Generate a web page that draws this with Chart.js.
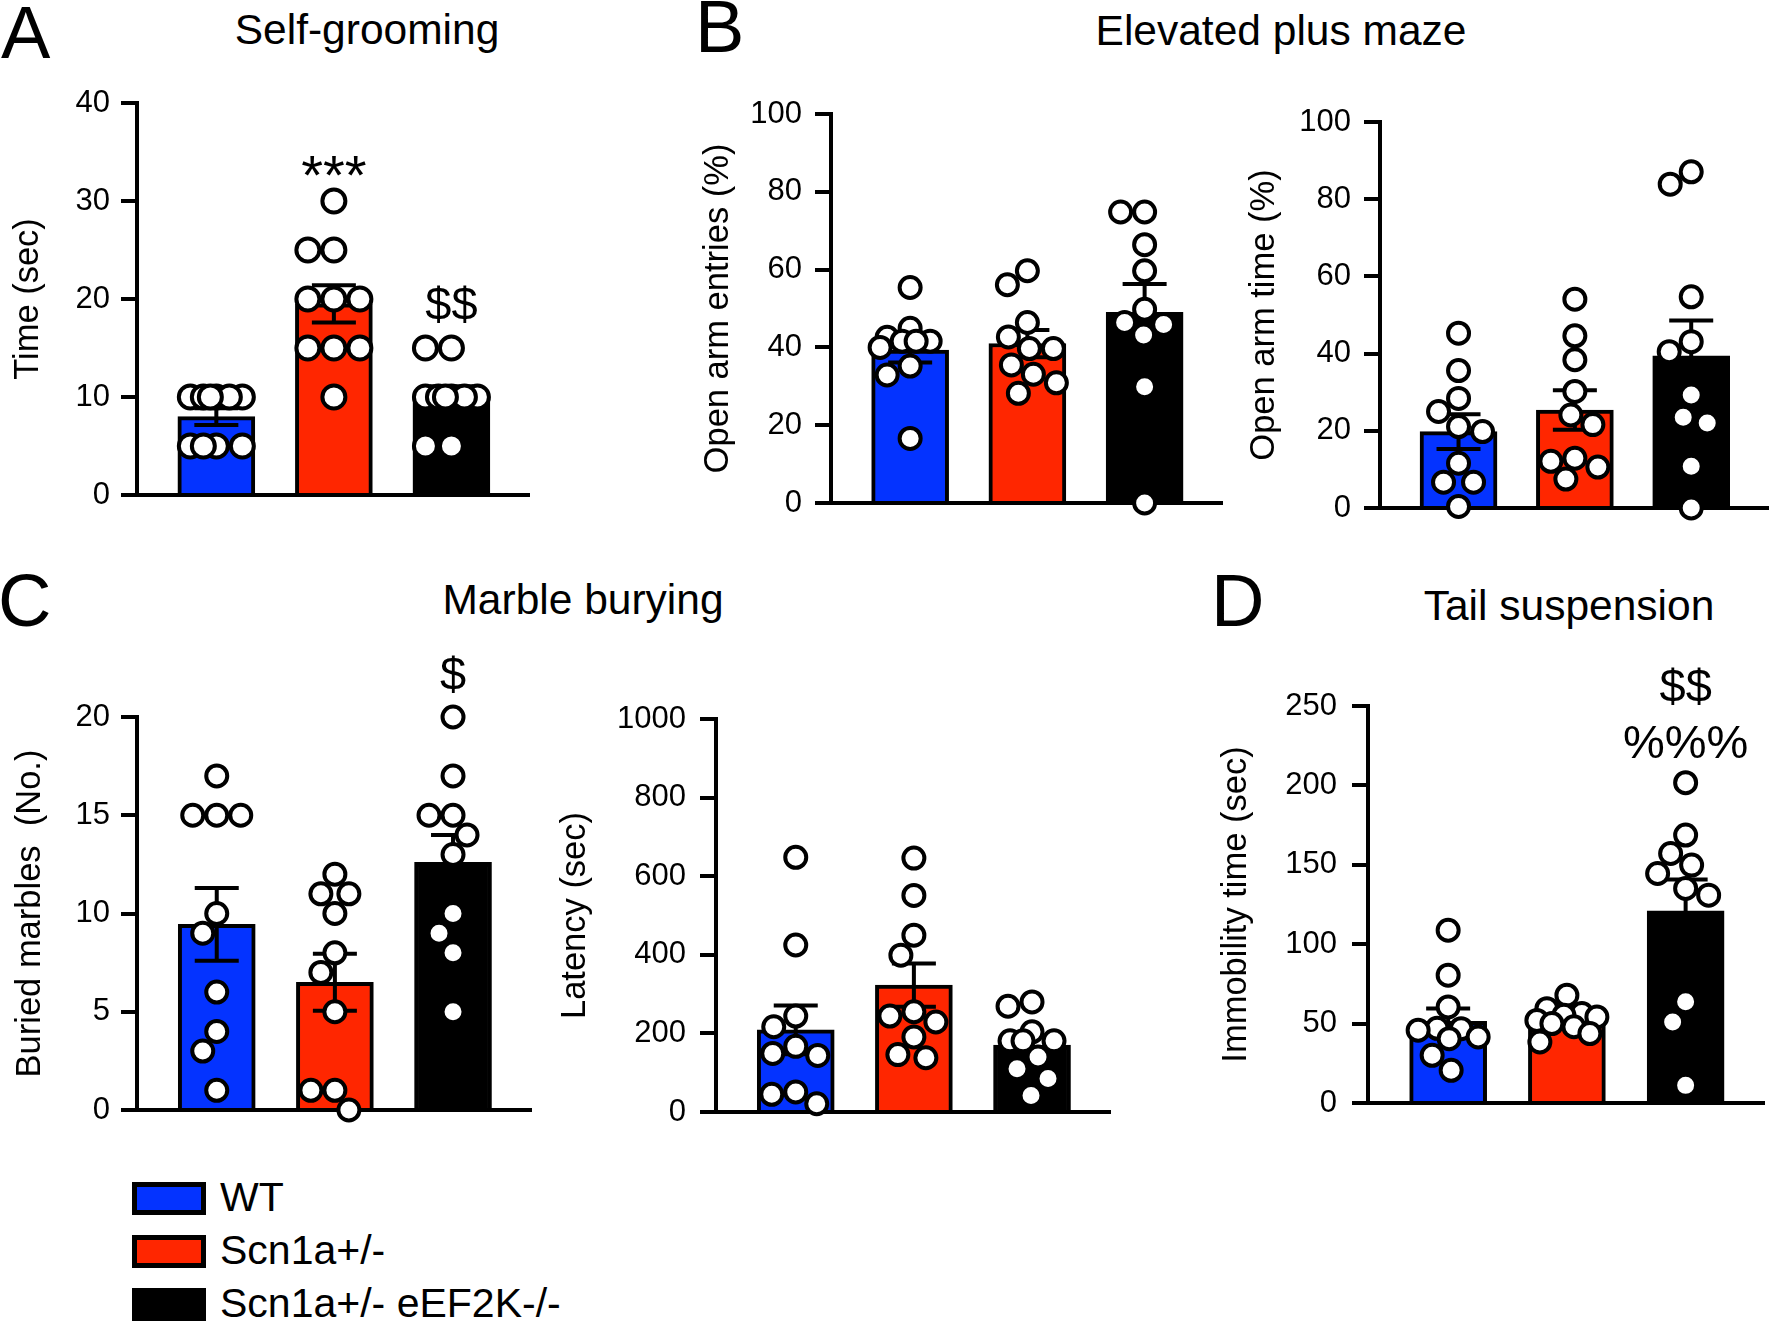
<!DOCTYPE html>
<html>
<head>
<meta charset="utf-8">
<script src="https://cdn.jsdelivr.net/npm/chart.js@4.4.1/dist/chart.umd.min.js"></script>
<style>
  html, body { margin: 0; padding: 0; background: #fff; }
  body { width: 1770px; height: 1323px; position: relative; overflow: hidden;
         font-family: 'Liberation Sans', Arial, Helvetica, sans-serif; color: #000; }
  .t { position: absolute; line-height: 1; white-space: nowrap; color: #000; }
  canvas { position: absolute; }
  .sw { position: absolute; box-sizing: border-box; width: 74px; height: 33px; border: 5px solid #000; }
</style>
</head>
<body>
<div class="t" style="left:1px;top:-4px;font-size:74px;">A</div>
<div class="t" style="left:167px;top:9px;width:400px;text-align:center;font-size:42.5px;">Self-grooming</div>
<div class="t" style="left:695px;top:-10px;font-size:74px;">B</div>
<div class="t" style="left:1081px;top:10px;width:400px;text-align:center;font-size:42.5px;">Elevated plus maze</div>
<div class="t" style="left:-2px;top:564px;font-size:74px;">C</div>
<div class="t" style="left:383px;top:579px;width:400px;text-align:center;font-size:42.5px;">Marble burying</div>
<div class="t" style="left:1211px;top:564px;font-size:74px;">D</div>
<div class="t" style="left:1369px;top:585px;width:400px;text-align:center;font-size:42.5px;">Tail suspension</div>

<div id="legend"></div>

<script>
// ---------------- DATA ----------------
const groups = ['WT', 'Scn1a+/-', 'Scn1a+/- eEF2K-/-'];
const groupColors = ['#0433FF', '#FF2600', '#000000'];

// A: Self-grooming, Time (sec)
const groomWT   = [10, 10, 10, 10, 10, 10, 5, 5, 5, 5];
const groomScn  = [30, 25, 25, 20, 20, 20, 15, 15, 15, 10];
const groomDKO  = [15, 15, 10, 10, 10, 10, 10, 10, 5, 5];
const groomMean = [8, 19.5, 10];
const groomSem  = [0.85, 1.9, 1.1];
const groomTicks = [0, 10, 20, 30, 40];
const groomMarks = [[], ['***'], ['$$']];

// B: Elevated plus maze, Open arm entries (%)
const entriesWT   = [55.4, 44.9, 42.6, 41.6, 41.6, 41.6, 40, 35.2, 32.9, 16.6];
const entriesScn  = [59.7, 56.1, 46.4, 42.7, 39.7, 39.7, 35.5, 33.1, 30.9, 28.2];
const entriesDKO  = [74.8, 74.8, 66.4, 59.7, 49.8, 46.4, 45.9, 43.2, 29.9, 0];
const entriesMean = [39.3, 41, 49];
const entriesSem  = [3.2, 3.5, 7.3];
const entriesTicks = [0, 20, 40, 60, 80, 100];

// B: Elevated plus maze, Open arm time (%)
const timeWT   = [45.3, 35.6, 28.4, 25, 21.1, 19.8, 11.6, 6.7, 6.7, 0.4];
const timeScn  = [54.1, 44.6, 38.4, 30.2, 24.1, 21.6, 12.9, 12.1, 10.6, 7.5];
const timeDKO  = [87.1, 83.9, 54.7, 43.1, 40.5, 29.3, 23.5, 22, 10.8, 0];
const timeMean = [19.8, 25.4, 39.4];
const timeSem  = [4.5, 5.1, 9.2];
const timeTicks = [0, 20, 40, 60, 80, 100];

// C: Marble burying, Buried marbles (No.)
const marblesWT   = [17, 15, 15, 15, 10, 9, 6, 4, 3, 1];
const marblesScn  = [12, 11, 11, 10, 8, 7, 5, 1, 1, 0];
const marblesDKO  = [20, 17, 15, 15, 14, 13, 10, 9, 8, 5];
const marblesMean = [9.45, 6.5, 12.6];
const marblesSem  = [1.85, 1.45, 1.4];
const marblesTicks = [0, 5, 10, 15, 20];
const marblesMarks = [[], [], ['$']];

// C: Marble burying, Latency (sec)
const latencyWT   = [648, 425, 244, 217, 167, 149, 144, 51, 45, 21];
const latencyScn  = [646, 551, 450, 399, 255, 244, 229, 191, 146, 138];
const latencyDKO  = [280, 269, 204, 181, 181, 181, 140, 110, 85, 42];
const latencyMean = [209, 323, 170];
const latencySem  = [62, 55, 24];
const latencyTicks = [0, 200, 400, 600, 800, 1000];

// D: Tail suspension, Immobility time (sec)
const tailWT   = [108.8, 80.5, 60.5, 47, 46.8, 45.8, 41.6, 40.5, 30, 20.6];
const tailScn  = [67.9, 59.4, 56.3, 55.3, 54.2, 52, 50, 48, 43.7, 38.4];
const tailDKO  = [201.7, 168.7, 157.1, 149.8, 144.5, 135.1, 130.9, 63.7, 51, 11.1];
const tailMean = [51.5, 50.5, 121];
const tailSem  = [8, 3, 19.8];
const tailTicks = [0, 50, 100, 150, 200, 250];
const tailMarks = [[], [], ['$$', '%%%']];

// ---------------- LAYOUT / STYLE ----------------
const FONT = "'Liberation Sans', Arial, Helvetica, sans-serif";
const X_MIN = -0.675, X_MAX = 2.66;
const BAR_W = 77;
const TITLE_SIZE = 34.5;
const TICK_SIZE = 31;

const panels = [
  { series: [groomWT, groomScn, groomDKO], mean: groomMean, sem: groomSem, ticks: groomTicks,
    marks: groomMarks, title: 'Time (sec)',
    box: { left: 0, top: 60, width: 545, height: 480 }, area: { left: 137, top: 103, right: 529, bottom: 495 },
    titleX: 28, r: 11.5, tickPad: 11 },
  { series: [entriesWT, entriesScn, entriesDKO], mean: entriesMean, sem: entriesSem, ticks: entriesTicks,
    marks: [[], [], []], title: 'Open arm entries (%)',
    box: { left: 690, top: 70, width: 545, height: 470 }, area: { left: 831, top: 114, right: 1222, bottom: 503 },
    titleX: 718, r: 10.5, tickPad: 13 },
  { series: [timeWT, timeScn, timeDKO], mean: timeMean, sem: timeSem, ticks: timeTicks,
    marks: [[], [], []], title: 'Open arm time (%)',
    box: { left: 1240, top: 70, width: 530, height: 470 }, area: { left: 1380, top: 122, right: 1768, bottom: 508 },
    titleX: 1264, r: 10.5, tickPad: 13 },
  { series: [marblesWT, marblesScn, marblesDKO], mean: marblesMean, sem: marblesSem, ticks: marblesTicks,
    marks: marblesMarks, title: 'Buried marbles  (No.)',
    box: { left: 0, top: 620, width: 545, height: 530 }, area: { left: 137, top: 717, right: 531, bottom: 1110 },
    titleX: 30, r: 10.5, tickPad: 11 },
  { series: [latencyWT, latencyScn, latencyDKO], mean: latencyMean, sem: latencySem, ticks: latencyTicks,
    marks: [[], [], []], title: 'Latency (sec)',
    box: { left: 548, top: 660, width: 575, height: 490 }, area: { left: 716, top: 719, right: 1110, bottom: 1112 },
    titleX: 575, r: 10.5, tickPad: 14 },
  { series: [tailWT, tailScn, tailDKO], mean: tailMean, sem: tailSem, ticks: tailTicks,
    marks: tailMarks, title: 'Immobility time (sec)',
    box: { left: 1180, top: 630, width: 590, height: 520 }, area: { left: 1368, top: 706, right: 1764, bottom: 1103 },
    titleX: 1236, r: 10.5, tickPad: 15 }
];

function makeChart(p) {
  const c = document.createElement('canvas');
  c.width = p.box.width; c.height = p.box.height;
  c.style.left = p.box.left + 'px'; c.style.top = p.box.top + 'px';
  c.style.width = p.box.width + 'px'; c.style.height = p.box.height + 'px';
  document.body.appendChild(c);

  const yW = p.area.left - p.box.left;
  const titlePad = p.titleX - p.box.left - TITLE_SIZE * 1.2 / 2;
  const pBorder = 4;

  const errPlugin = {
    id: 'errbars',
    afterDatasetDraw(chart, args) {
      if (args.meta.type !== 'bar') return;
      const ctx = chart.ctx, xs = chart.scales.x, ys = chart.scales.y;
      ctx.save();
      ctx.strokeStyle = '#000'; ctx.lineWidth = 4; ctx.lineCap = 'butt';
      p.mean.forEach((m, i) => {
        const cx = xs.getPixelForValue(i);
        const yT = ys.getPixelForValue(m + p.sem[i]);
        const yB = ys.getPixelForValue(m - p.sem[i]);
        ctx.beginPath();
        ctx.moveTo(cx, yT); ctx.lineTo(cx, yB);
        ctx.moveTo(cx - 22, yT); ctx.lineTo(cx + 22, yT);
        ctx.moveTo(cx - 22, yB); ctx.lineTo(cx + 22, yB);
        ctx.stroke();
      });
      ctx.restore();
    }
  };

  const markPlugin = {
    id: 'marks',
    afterDraw(chart) {
      const ctx = chart.ctx, xs = chart.scales.x, ys = chart.scales.y;
      ctx.save();
      ctx.fillStyle = '#000';
      ctx.textAlign = 'center'; ctx.textBaseline = 'alphabetic';
      p.marks.forEach((lines, gi) => {
        if (!lines.length) return;
        const top = ys.getPixelForValue(Math.max(...p.series[gi])) - p.r - pBorder / 2;
        let bottom = top - 12;
        const cx = xs.getPixelForValue(gi);
        for (let j = lines.length - 1; j >= 0; j--) {
          const size = /^\*+$/.test(lines[j]) ? 56 : 47;
          ctx.font = size + 'px ' + FONT;
          const m = ctx.measureText(lines[j]);
          ctx.fillText(lines[j], cx, bottom - m.actualBoundingBoxDescent);
          bottom = bottom - m.actualBoundingBoxDescent - m.actualBoundingBoxAscent - 21;
        }
      });
      ctx.restore();
    }
  };

  const chart = new Chart(c, {
    type: 'bar',
    data: {
      datasets: [
        { type: 'bar', order: 1,
          data: p.mean.map((m, i) => ({ x: i, y: m })),
          backgroundColor: groupColors, borderColor: '#000', borderWidth: 4,
          borderSkipped: 'bottom', barThickness: BAR_W },
        { type: 'scatter', order: 0,
          data: p.series.flatMap((arr, i) => arr.map(v => ({ x: i, y: v }))),
          pointRadius: p.r, pointBackgroundColor: '#fff', pointBorderColor: '#000',
          pointBorderWidth: pBorder, showLine: false, clip: false }
      ]
    },
    options: {
      responsive: false, animation: false, events: [],
      layout: { autoPadding: false,
        padding: { left: 0, top: p.area.top - p.box.top,
                   right: p.box.left + p.box.width - p.area.right,
                   bottom: p.box.top + p.box.height - p.area.bottom } },
      plugins: { legend: { display: false }, tooltip: { enabled: false } },
      scales: {
        x: { type: 'linear', min: X_MIN, max: X_MAX, offset: false,
             ticks: { display: false }, grid: { display: false },
             border: { display: true, color: '#000', width: 4 },
             afterFit: s => { s.height = 0; } },
        y: { type: 'linear', min: p.ticks[0], max: p.ticks[p.ticks.length - 1],
             afterBuildTicks: s => { s.ticks = p.ticks.map(v => ({ value: v })); },
             ticks: { color: '#000', font: { family: FONT, size: TICK_SIZE }, padding: p.tickPad,
                      autoSkip: false, callback: v => String(v) },
             grid: { display: true, drawOnChartArea: false, drawTicks: true, tickLength: 16,
                     lineWidth: 4, tickWidth: 4, color: '#000', tickColor: '#000' },
             border: { display: true, color: '#000', width: 4 },
             title: { display: true, text: p.title, color: '#000',
                      font: { family: FONT, size: TITLE_SIZE }, padding: { top: titlePad, bottom: 0 } },
             afterFit: s => { s.width = yW; } }
      }
    },
    plugins: [errPlugin, markPlugin]
  });

  // swarm layout of the individual points (computed, not typed)
  const xs = chart.scales.x, ys = chart.scales.y;
  const ppu = xs.getPixelForValue(1) - xs.getPixelForValue(0);
  const dia = 2 * p.r + pBorder, md = dia * 0.95, maxOff = Math.floor(BAR_W * 0.4);
  const pts = [];
  p.series.forEach((arr, gi) => {
    const placed = [];
    const offs = new Array(arr.length).fill(0);
    const order = arr.map((v, k) => k).sort((a, b) => arr[b] - arr[a]);
    for (const k of order) {
      const py = ys.getPixelForValue(arr[k]);
      let chosen = null, best = -1, bestS = 0;
      for (let m = 0; m <= maxOff && chosen === null; m++) {
        for (const s of (m === 0 ? [0] : [-m, m])) {
          let mind = Infinity;
          for (const q of placed) mind = Math.min(mind, Math.hypot(s - q.dx, py - q.py));
          if (mind >= md) { chosen = s; break; }
          if (mind > best + 0.5) { best = mind; bestS = s; }
        }
      }
      if (chosen === null) chosen = bestS;
      placed.push({ dx: chosen, py });
      offs[k] = chosen;
    }
    arr.forEach((v, k) => pts.push({ x: gi + offs[k] / ppu, y: v }));
  });
  chart.data.datasets[1].data = pts;
  chart.update('none');
  return chart;
}

panels.forEach(makeChart);

// legend
const legendTops = [1182, 1235, 1288];
const leg = document.getElementById('legend');
groups.forEach((g, i) => {
  const sw = document.createElement('div');
  sw.className = 'sw';
  sw.style.left = '132px'; sw.style.top = legendTops[i] + 'px';
  sw.style.background = groupColors[i];
  leg.appendChild(sw);
  const tx = document.createElement('div');
  tx.className = 't';
  tx.style.left = '220px'; tx.style.top = (legendTops[i] - 5) + 'px'; tx.style.fontSize = '41px';
  tx.textContent = g;
  leg.appendChild(tx);
});
</script>
</body>
</html>
